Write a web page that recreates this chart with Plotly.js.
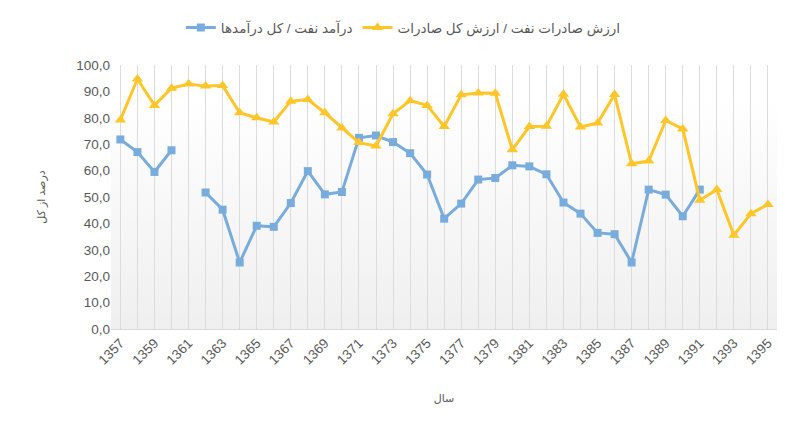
<!DOCTYPE html>
<html>
<head>
<meta charset="utf-8">
<script src="https://cdn.plot.ly/plotly-3.0.1.min.js"></script>
<style>html,body{margin:0;padding:0;background:#fff;}#chart{width:794px;height:428px;}</style>
</head>
<body>
<div id="chart"></div>
<script>
const years = [1357,1358,1359,1360,1361,1362,1363,1364,1365,1366,1367,1368,1369,1370,1371,1372,1373,1374,1375,1376,1377,1378,1379,1380,1381,1382,1383,1384,1385,1386,1387,1388,1389,1390,1391,1392,1393,1394,1395];
const oilIncomeShare = [71.8,67.0,59.5,67.7,null,51.7,45.2,25.2,39.1,38.7,47.7,59.8,51.0,51.9,72.4,73.3,70.8,66.6,58.5,41.8,47.5,56.6,57.2,62.0,61.6,58.6,47.9,43.7,36.4,35.9,25.2,52.8,50.9,42.7,52.8,null,null,null,null];
const oilExportShare = [79.2,94.7,84.7,91.2,92.8,92.0,92.2,81.9,80.0,78.4,86.3,86.9,81.9,76.1,70.6,69.3,81.5,86.5,84.7,76.7,88.7,89.4,89.3,67.9,76.7,76.8,88.9,76.5,78.0,88.8,62.6,63.6,79.0,75.8,48.8,52.8,35.5,43.7,47.2];
const yTickVals = [0,10,20,30,40,50,60,70,80,90,100];
const yTickText = ["0,0","10,0","20,0","30,0","40,0","50,0","60,0","70,0","80,0","90,0","100,0"];
const xTickText = years.map((y,i) => i % 2 === 0 ? String(y) : "");
const name1 = "درآمد نفت / کل درآمدها";
const name2 = "ارزش صادرات نفت / ارزش کل صادرات";
const yTitle = "درصد از کل";
const xTitle = "سال";

const gradSvg = '<svg xmlns="http://www.w3.org/2000/svg" width="100" height="100" preserveAspectRatio="none"><defs><linearGradient id="g" x1="0" y1="0" x2="0" y2="1"><stop offset="0" stop-color="#ffffff"/><stop offset="1" stop-color="#efefef"/></linearGradient></defs><rect width="100" height="100" fill="url(#g)"/></svg>';
const gradUri = 'data:image/svg+xml;base64,' + btoa(gradSvg);

const font = "Liberation Sans, DejaVu Sans, sans-serif";
const traces = [
  {x: years, y: oilIncomeShare, name: name1, type: 'scatter', mode: 'lines+markers',
   line: {color: '#78acdc', width: 3}, marker: {symbol: 'square', size: 8, color: '#78acdc'},
   connectgaps: false},
  {x: years, y: oilExportShare, name: name2, type: 'scatter', mode: 'lines+markers',
   line: {color: '#ffc629', width: 3}, marker: {symbol: 'triangle-up', size: 10, color: '#ffc629'}}
];
const layout = {
  width: 794, height: 428,
  margin: {l: 111, r: 17, t: 65, b: 99, autoexpand: false},
  paper_bgcolor: '#ffffff',
  plot_bgcolor: 'rgba(0,0,0,0)',
  font: {family: font, color: '#595959', size: 13},
  showlegend: true,
  legend: {orientation: 'h', xref: 'container', yref: 'container', x: 0.508, xanchor: 'center',
           y: 0.935, yanchor: 'middle',
           font: {size: 13.5, color: '#595959'}, traceorder: 'normal'},
  images: [{source: gradUri, xref: 'paper', yref: 'paper', x: 0, y: 0.877, sizex: 1, sizey: 0.877,
            xanchor: 'left', yanchor: 'top', sizing: 'stretch', layer: 'below'}],
  shapes: [{type: 'rect', xref: 'paper', yref: 'paper', x0: -0.001, x1: 1.001, y0: 0.877, y1: 1.0,
            fillcolor: '#ffffff', line: {width: 0}, layer: 'between'}],
  xaxis: {range: [1356.45, 1395.53], tickmode: 'array', tickvals: years, ticktext: xTickText,
          tickangle: -45, showgrid: true, gridcolor: '#dcdcdc', gridwidth: 1,
          showline: true, linecolor: '#d9d9d9', linewidth: 1, zeroline: false, ticks: '',
          tickfont: {size: 13.5, color: '#595959'}, automargin: false,
          title: {text: xTitle, font: {size: 11, color: '#595959'}, standoff: 27}},
  yaxis: {range: [0, 100], tickmode: 'array', tickvals: yTickVals, ticktext: yTickText,
          showgrid: false, zeroline: false, showline: false, ticks: '', automargin: false,
          tickfont: {size: 13.5, color: '#595959'},
          title: {text: yTitle, font: {size: 11, color: '#595959'}, standoff: 28}}
};
Plotly.newPlot('chart', traces, layout, {displayModeBar: false, staticPlot: true});
</script>
</body>
</html>
